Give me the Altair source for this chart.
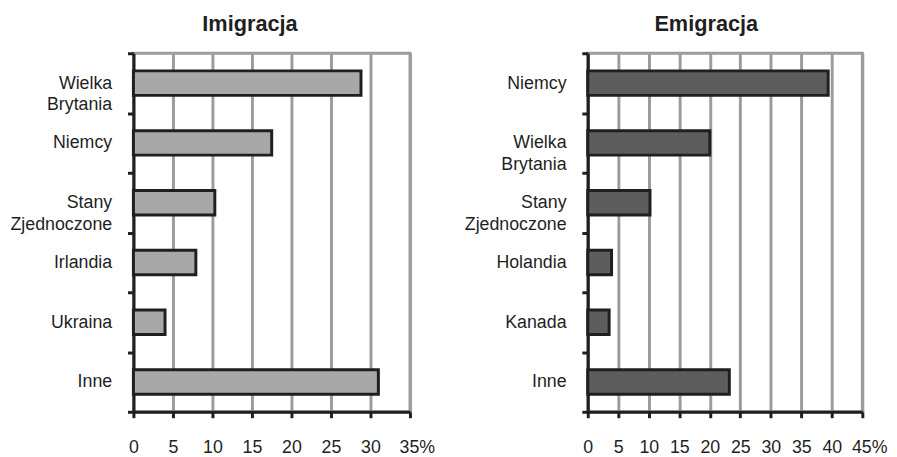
import altair as alt
import pandas as pd

# ---- data ----
imm_countries = ["Wielka Brytania", "Niemcy", "Stany Zjednoczone", "Irlandia", "Ukraina", "Inne"]
imm_values = [28.8, 17.5, 10.3, 7.9, 4.0, 31.0]
imm_ticks = [0, 5, 10, 15, 20, 25, 30, 35]

emi_countries = ["Niemcy", "Wielka Brytania", "Stany Zjednoczone", "Holandia", "Kanada", "Inne"]
emi_values = [39.4, 20.0, 10.2, 3.9, 3.5, 23.2]
emi_ticks = [0, 5, 10, 15, 20, 25, 30, 35, 40, 45]

titles = ["Imigracja", "Emigracja"]

# two-line labels (short line padded so both lines look centred)
NB = "\u00a0"
multiline = {
    "Wielka Brytania": ["Wielka" + NB, "Brytania"],
    "Stany Zjednoczone": ["Stany" + NB * 6, "Zjednoczone"],
}

FONT = "Liberation Sans Narrow, Arial Narrow, Liberation Sans, sans-serif"
INK = "#1f1f1f"
GRID = "#9c9c9c"


def ylabel_expr():
    expr = "datum.label"
    for k, lines in multiline.items():
        arr = "[" + ", ".join("'" + s + "'" for s in lines) + "]"
        expr = f"datum.label == '{k}' ? {arr} : ({expr})"
    return expr


def panel(countries, values, ticks, fill, title, width, title_dx, y_extent):
    df = pd.DataFrame({"country": countries, "value": values})
    last = ticks[-1]
    x = alt.X(
        "value:Q",
        scale=alt.Scale(domain=[ticks[0], last], nice=False, zero=True),
        axis=alt.Axis(
            values=ticks,
            title=None,
            grid=True,
            gridColor=GRID,
            gridWidth=3,
            domainColor=INK,
            domainWidth=3,
            tickColor=INK,
            tickWidth=3,
            tickSize=6,
            labelFont=FONT,
            labelFontSize=18,
            labelColor=INK,
            labelPadding=21,
            labelFlush=False,
            labelOverlap=False,
            labelExpr=f"datum.value == {last} ? datum.label + '%' : datum.label",
            labelOffset={"condition": {"test": f"datum.value == {last}", "value": 7}, "value": 0},
        ),
    )
    y = alt.Y(
        "country:N",
        sort=countries,
        scale=alt.Scale(paddingInner=0, paddingOuter=0),
        axis=alt.Axis(
            title=None,
            tickBand="extent",
            domainColor=INK,
            domainWidth=3,
            tickColor=INK,
            tickWidth=3,
            tickSize=6,
            labelFont=FONT,
            labelFontSize=18,
            labelColor=INK,
            labelLineHeight=22,
            labelPadding=16,
            labelExpr=ylabel_expr(),
            minExtent=y_extent,
            maxExtent=y_extent,
        ),
    )
    return (
        alt.Chart(df)
        .mark_bar(fill=fill, stroke=INK, strokeWidth=3, height={"band": 0.41})
        .encode(x=x, y=y)
        .properties(
            width=width,
            height=363,
            title=alt.TitleParams(
                title,
                font=FONT,
                fontSize=22,
                fontWeight="bold",
                color=INK,
                anchor="middle",
                frame="group",
                dx=title_dx,
                offset=9,
            ),
        )
    )


left = panel(imm_countries, imm_values, imm_ticks, "#a8a8a8", titles[0], 280, -22, 125)
right = panel(emi_countries, emi_values, emi_ticks, "#5d5d5d", titles[1], 278, -19, 125)

chart = (
    alt.hconcat(left, right, spacing=26)
    .properties(padding=0)
    .configure_view(stroke=GRID, strokeWidth=3)
)

chart.save("out.html", embed_options={"renderer": "svg", "actions": False})
